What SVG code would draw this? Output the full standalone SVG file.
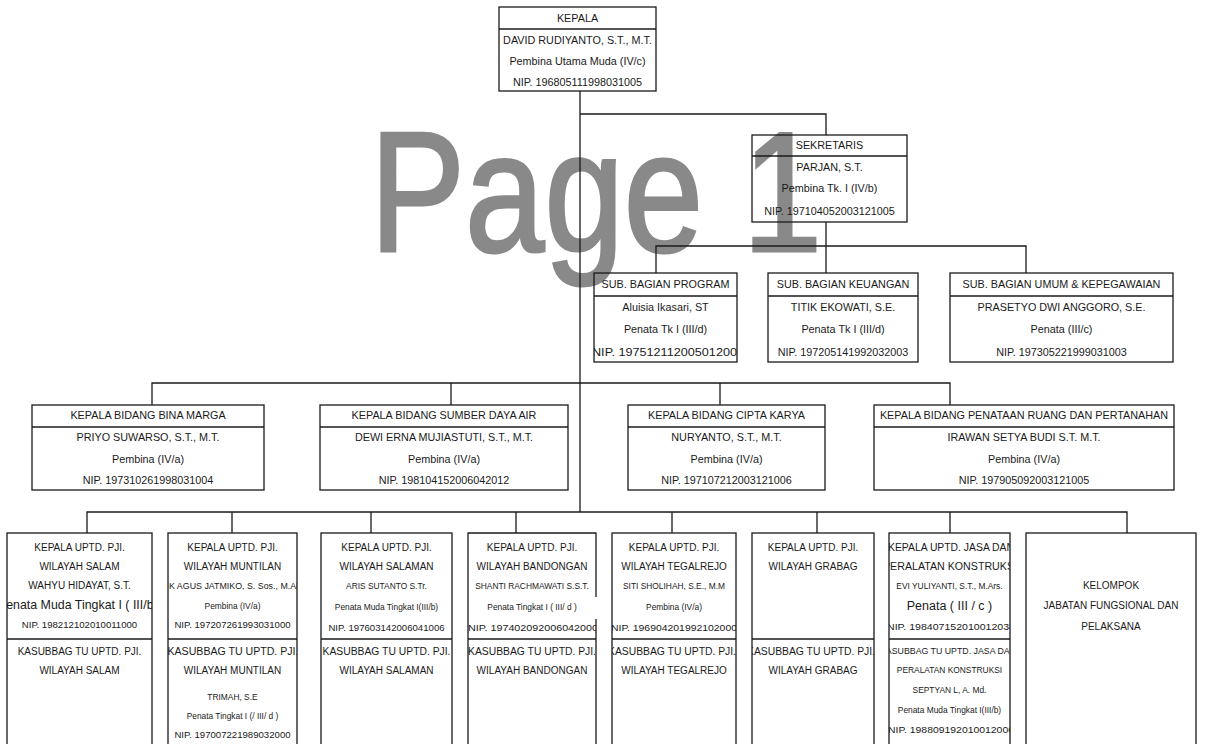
<svg xmlns="http://www.w3.org/2000/svg" width="1208" height="744" viewBox="0 0 1208 744">
<style>
.bx{fill:none;stroke:#1a1a1a;stroke-width:1.3}
.dv{stroke:#1a1a1a;stroke-width:1.3}
.cn{fill:none;stroke:#1a1a1a;stroke-width:1.3}
text{font-family:"Liberation Sans",Arial,sans-serif;fill:#1a1a1a;text-anchor:middle;font-size:10.8px}
.m{font-size:10px}
.s{font-size:8.4px}
.n{font-size:9.6px}
.wm{font-size:170px;fill:#898989;stroke:#898989;stroke-width:3;text-anchor:start}
</style>
<defs>
<clipPath id="cp0"><rect x="594" y="273" width="143" height="89"/></clipPath>
<clipPath id="cp1"><rect x="7" y="533" width="145" height="220"/></clipPath>
<clipPath id="cp2"><rect x="168" y="533" width="129" height="220"/></clipPath>
<clipPath id="cp3"><rect x="321" y="533" width="131" height="220"/></clipPath>
<clipPath id="cp4"><rect x="468" y="533" width="128" height="220"/></clipPath>
<clipPath id="cp5"><rect x="612" y="533" width="124" height="220"/></clipPath>
<clipPath id="cp6"><rect x="752" y="533" width="122" height="220"/></clipPath>
<clipPath id="cp7"><rect x="889" y="533" width="121" height="220"/></clipPath>
</defs>
<rect width="1208" height="744" fill="#fff"/>
<text class="wm" x="370" y="251" textLength="452" lengthAdjust="spacingAndGlyphs">Page 1</text>

<g id="connectors">
<path class="cn" d="M580 91V512"/>
<path class="cn" d="M580 114H826V135"/>
<path class="cn" d="M826 222V273M656 273V246H1026V273"/>
<path class="cn" d="M152 405V383H950V405M451 383V405M720 383V405"/>
<path class="cn" d="M87 533V512H1127V533M232 512V533M371 512V533M516 512V533M672 512V533M817 512V533M950 512V533"/>
</g>

<g id="kepala">
<rect class="bx" x="499" y="7" width="157" height="84"/>
<line class="dv" x1="499" y1="29" x2="656" y2="29"/>
<text x="577.5" y="21.5">KEPALA</text>
<text x="577.5" y="43.5">DAVID RUDIYANTO, S.T., M.T.</text>
<text x="577.5" y="65">Pembina Utama Muda (IV/c)</text>
<text x="577.5" y="86">NIP. 196805111998031005</text>
</g>

<g id="sekretaris">
<rect class="bx" x="752" y="135" width="155" height="87"/>
<line class="dv" x1="752" y1="156" x2="907" y2="156"/>
<text x="829.5" y="149">SEKRETARIS</text>
<text x="829.5" y="171">PARJAN, S.T.</text>
<text x="829.5" y="192">Pembina Tk. I (IV/b)</text>
<text x="829.5" y="215">NIP. 197104052003121005</text>
</g>

<g id="sub-program">
<rect class="bx" x="594" y="273" width="143" height="89"/>
<line class="dv" x1="594" y1="296" x2="737" y2="296"/>
<g clip-path="url(#cp0)">
<text x="665.5" y="288">SUB. BAGIAN PROGRAM</text>
<text x="665.5" y="311">Aluisia Ikasari, ST</text>
<text x="665.5" y="333">Penata Tk I (III/d)</text>
<text x="668" y="356" textLength="152" lengthAdjust="spacingAndGlyphs">NIP.  197512112005012004</text>
</g>
</g>

<g id="sub-keuangan">
<rect class="bx" x="768" y="273" width="150" height="89"/>
<line class="dv" x1="768" y1="296" x2="918" y2="296"/>
<text x="843" y="288">SUB. BAGIAN KEUANGAN</text>
<text x="843" y="311">TITIK EKOWATI, S.E.</text>
<text x="843" y="333">Penata Tk I (III/d)</text>
<text x="843" y="356">NIP. 197205141992032003</text>
</g>

<g id="sub-umum">
<rect class="bx" x="950" y="273" width="223" height="89"/>
<line class="dv" x1="950" y1="296" x2="1173" y2="296"/>
<text x="1061.5" y="288">SUB. BAGIAN UMUM &amp; KEPEGAWAIAN</text>
<text x="1061.5" y="311">PRASETYO DWI ANGGORO, S.E.</text>
<text x="1061.5" y="333">Penata (III/c)</text>
<text x="1061.5" y="356">NIP. 197305221999031003</text>
</g>

<g id="bidang-bina-marga">
<rect class="bx" x="32" y="405" width="232" height="85"/>
<line class="dv" x1="32" y1="427" x2="264" y2="427"/>
<text x="148" y="419">KEPALA BIDANG BINA MARGA</text>
<text x="148" y="441">PRIYO SUWARSO, S.T., M.T.</text>
<text x="148" y="463">Pembina (IV/a)</text>
<text x="148" y="484">NIP. 197310261998031004</text>
</g>

<g id="bidang-sda">
<rect class="bx" x="320" y="405" width="248" height="85"/>
<line class="dv" x1="320" y1="427" x2="568" y2="427"/>
<text x="444" y="419">KEPALA BIDANG SUMBER DAYA AIR</text>
<text x="444" y="441">DEWI ERNA MUJIASTUTI, S.T., M.T.</text>
<text x="444" y="463">Pembina (IV/a)</text>
<text x="444" y="484">NIP. 198104152006042012</text>
</g>

<g id="bidang-cipta-karya">
<rect class="bx" x="628" y="405" width="197" height="85"/>
<line class="dv" x1="628" y1="427" x2="825" y2="427"/>
<text x="726.5" y="419">KEPALA BIDANG CIPTA KARYA</text>
<text x="726.5" y="441">NURYANTO, S.T., M.T.</text>
<text x="726.5" y="463">Pembina (IV/a)</text>
<text x="726.5" y="484">NIP. 197107212003121006</text>
</g>

<g id="bidang-penataan">
<rect class="bx" x="874" y="405" width="300" height="85"/>
<line class="dv" x1="874" y1="427" x2="1174" y2="427"/>
<text x="1024" y="419">KEPALA BIDANG PENATAAN RUANG DAN PERTANAHAN</text>
<text x="1024" y="441">IRAWAN SETYA BUDI S.T. M.T.</text>
<text x="1024" y="463">Pembina (IV/a)</text>
<text x="1024" y="484">NIP. 197905092003121005</text>
</g>

<g id="uptd-salam">
<rect class="bx" x="7" y="533" width="145" height="220"/>
<line class="dv" x1="7" y1="639" x2="152" y2="639"/>
<g clip-path="url(#cp1)">
<text class="m" x="79.5" y="551">KEPALA UPTD. PJI.</text>
<text class="m" x="79.5" y="570">WILAYAH SALAM</text>
<text class="m" x="79.5" y="589">WAHYU HIDAYAT, S.T.</text>
<text x="79.5" y="609" style="font-size:12.4px">Penata Muda Tingkat I ( III/b )</text>
<text class="n" x="79.5" y="628">NIP. 198212102010011000</text>
<text class="m" x="79.5" y="655">KASUBBAG TU  UPTD. PJI.</text>
<text class="m" x="79.5" y="674">WILAYAH SALAM</text>
</g>
</g>

<g id="uptd-muntilan">
<rect class="bx" x="168" y="533" width="129" height="220"/>
<line class="dv" x1="168" y1="639" x2="297" y2="639"/>
<g clip-path="url(#cp2)">
<text class="m" x="232.5" y="551">KEPALA UPTD. PJI.</text>
<text class="m" x="232.5" y="570">WILAYAH MUNTILAN</text>
<text class="s" x="169" y="589" style="text-anchor:start" textLength="133" lengthAdjust="spacingAndGlyphs">K AGUS JATMIKO, S. Sos., M.AP</text>
<text class="s" x="232.5" y="609">Pembina (IV/a)</text>
<text class="n" x="232.5" y="628">NIP. 197207261993031000</text>
<text class="m" x="233" y="655" textLength="131" lengthAdjust="spacingAndGlyphs">KASUBBAG TU  UPTD. PJI.</text>
<text class="m" x="232.5" y="674">WILAYAH MUNTILAN</text>
<text class="s" x="232.5" y="700">TRIMAH, S.E</text>
<text class="s" x="232.5" y="719">Penata Tingkat I (/ III/ d )</text>
<text class="n" x="232.5" y="738">NIP. 197007221989032000</text>
</g>
</g>

<g id="uptd-salaman">
<rect class="bx" x="321" y="533" width="131" height="220"/>
<line class="dv" x1="321" y1="639" x2="452" y2="639"/>
<g clip-path="url(#cp3)">
<text class="m" x="386.5" y="551">KEPALA UPTD. PJI.</text>
<text class="m" x="386.5" y="570">WILAYAH SALAMAN</text>
<text class="s" x="386.5" y="589">ARIS SUTANTO S.Tr.</text>
<text class="s" x="386.5" y="610">Penata Muda Tingkat I(III/b)</text>
<text class="n" x="386.5" y="631">NIP. 197603142006041006</text>
<text class="m" x="386.5" y="655" textLength="128" lengthAdjust="spacingAndGlyphs">KASUBBAG TU  UPTD. PJI.</text>
<text class="m" x="386.5" y="674">WILAYAH SALAMAN</text>
</g>
</g>

<g id="uptd-bandongan">
<path class="bx" d="M596 597V533H468V753M596 619V753"/>
<line class="dv" x1="468" y1="639" x2="596" y2="639"/>
<g clip-path="url(#cp4)">
<text class="m" x="532" y="551">KEPALA UPTD. PJI.</text>
<text class="m" x="532" y="570">WILAYAH BANDONGAN</text>
<text class="s" x="532" y="589">SHANTI RACHMAWATI S.S.T.</text>
<text class="s" x="532" y="610">Penata Tingkat I ( III/ d )</text>
<text class="n" x="533" y="631" textLength="130" lengthAdjust="spacingAndGlyphs">NIP.  197402092006042000</text>
<text class="m" x="532" y="655" textLength="128" lengthAdjust="spacingAndGlyphs">KASUBBAG TU  UPTD. PJI.</text>
<text class="m" x="532" y="674">WILAYAH BANDONGAN</text>
</g>
</g>

<g id="uptd-tegalrejo">
<rect class="bx" x="612" y="533" width="124" height="220"/>
<line class="dv" x1="612" y1="639" x2="736" y2="639"/>
<g clip-path="url(#cp5)">
<text class="m" x="674" y="551">KEPALA UPTD. PJI.</text>
<text class="m" x="674" y="570">WILAYAH TEGALREJO</text>
<text class="s" x="674" y="589">SITI SHOLIHAH, S.E., M.M</text>
<text class="s" x="674" y="610">Pembina (IV/a)</text>
<text class="n" x="674" y="631" textLength="126" lengthAdjust="spacingAndGlyphs">NIP. 196904201992102000</text>
<text class="m" x="672" y="655" textLength="128" lengthAdjust="spacingAndGlyphs">KASUBBAG TU  UPTD. PJI.</text>
<text class="m" x="674" y="674">WILAYAH TEGALREJO</text>
</g>
</g>

<g id="uptd-grabag">
<rect class="bx" x="752" y="533" width="122" height="220"/>
<line class="dv" x1="752" y1="639" x2="874" y2="639"/>
<g clip-path="url(#cp6)">
<text class="m" x="813" y="551">KEPALA UPTD. PJI.</text>
<text class="m" x="813" y="570">WILAYAH GRABAG</text>
<text class="m" x="811" y="655" textLength="128" lengthAdjust="spacingAndGlyphs">KASUBBAG TU  UPTD. PJI.</text>
<text class="m" x="813" y="674">WILAYAH GRABAG</text>
</g>
</g>

<g id="uptd-jasa">
<rect class="bx" x="889" y="533" width="121" height="220"/>
<line class="dv" x1="889" y1="639" x2="1010" y2="639"/>
<g clip-path="url(#cp7)">
<text class="m" x="951" y="551" textLength="126" lengthAdjust="spacingAndGlyphs">KEPALA UPTD. JASA DAN</text>
<text class="m" x="950" y="570" textLength="134" lengthAdjust="spacingAndGlyphs">PERALATAN KONSTRUKSI</text>
<text class="s" x="949.5" y="589">EVI YULIYANTI, S.T., M.Ars.</text>
<text x="949.5" y="610" style="font-size:12.5px">Penata ( III / c )</text>
<text class="n" x="951" y="630" textLength="128" lengthAdjust="spacingAndGlyphs">NIP. 198407152010012038</text>
<text class="s" x="948" y="654" textLength="136" lengthAdjust="spacingAndGlyphs">KASUBBAG TU  UPTD. JASA DAN</text>
<text class="s" x="949.5" y="673">PERALATAN KONSTRUKSI</text>
<text class="s" x="949.5" y="693">SEPTYAN L,  A. Md.</text>
<text class="s" x="949.5" y="713">Penata Muda Tingkat I(III/b)</text>
<text class="n" x="951" y="733" textLength="126" lengthAdjust="spacingAndGlyphs">NIP. 198809192010012000</text>
</g>
</g>

<g id="kelompok">
<rect class="bx" x="1026" y="533" width="170" height="220"/>
<text class="m" x="1111" y="589">KELOMPOK</text>
<text class="m" x="1111" y="609">JABATAN FUNGSIONAL DAN</text>
<text class="m" x="1111" y="630">PELAKSANA</text>
</g>
</svg>
